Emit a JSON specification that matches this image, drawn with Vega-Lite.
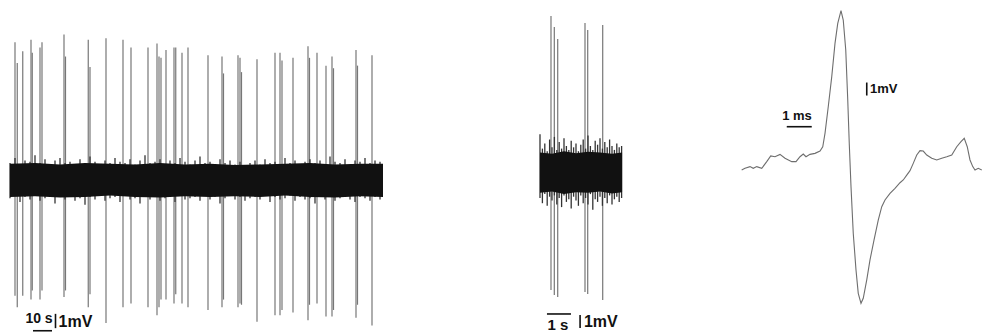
{
  "$schema": "https://vega.github.io/schema/vega-lite/v6.json",
  "padding": 0,
  "spacing": 0,
  "background": "white",
  "config": {"view": {"stroke": null}, "concat": {"spacing": 0}, "text": {"font": "Liberation Sans", "fontWeight": "bold", "fontSize": 15, "color": "#111"}},
  "datasets": {
    "p1core": [
      {"t":0,"hi":1.25,"lo":-1.3},{"t":10,"hi":1.3,"lo":-1.25},{"t":20,"hi":1.2,"lo":-1.35},{"t":30,"hi":1.3,"lo":-1.3},
      {"t":40,"hi":1.25,"lo":-1.2},{"t":50,"hi":1.2,"lo":-1.3},{"t":60,"hi":1.3,"lo":-1.35},{"t":70,"hi":1.2,"lo":-1.25},
      {"t":80,"hi":1.25,"lo":-1.3},{"t":90,"hi":1.15,"lo":-1.25},{"t":100,"hi":1.2,"lo":-1.3},{"t":110,"hi":1.25,"lo":-1.2},
      {"t":120,"hi":1.3,"lo":-1.3},{"t":130,"hi":1.2,"lo":-1.35},{"t":140,"hi":1.25,"lo":-1.25},{"t":149.2,"hi":1.25,"lo":-1.3}
    ],
    "p1noise": [
      {"t":0,"hi":1.3,"lo":-1.4},{"t":2,"hi":1.7,"lo":-1.2},{"t":4,"hi":1.2,"lo":-1.7},{"t":6,"hi":1.5,"lo":-1.3},{"t":8,"hi":1.4,"lo":-1.5},
      {"t":10,"hi":1.9,"lo":-1.2},{"t":12,"hi":1.3,"lo":-1.6},{"t":14,"hi":1.6,"lo":-1.4},{"t":16,"hi":1.2,"lo":-1.3},{"t":18,"hi":1.5,"lo":-1.8},
      {"t":20,"hi":1.7,"lo":-1.2},{"t":22,"hi":1.3,"lo":-1.5},{"t":24,"hi":1.4,"lo":-1.3},{"t":26,"hi":1.2,"lo":-1.6},{"t":28,"hi":1.6,"lo":-1.4},
      {"t":30,"hi":1.3,"lo":-1.9},{"t":32,"hi":1.8,"lo":-1.3},{"t":34,"hi":1.4,"lo":-1.5},{"t":36,"hi":1.2,"lo":-1.2},{"t":38,"hi":1.5,"lo":-1.6},
      {"t":40,"hi":1.3,"lo":-1.4},{"t":42,"hi":1.7,"lo":-1.3},{"t":44,"hi":1.4,"lo":-1.7},{"t":46,"hi":1.3,"lo":-1.2},{"t":48,"hi":1.6,"lo":-1.5},
      {"t":50,"hi":1.2,"lo":-1.4},{"t":52,"hi":1.5,"lo":-1.8},{"t":54,"hi":1.9,"lo":-1.3},{"t":56,"hi":1.3,"lo":-1.5},{"t":58,"hi":1.4,"lo":-1.2},
      {"t":60,"hi":1.6,"lo":-1.6},{"t":62,"hi":1.2,"lo":-1.4},{"t":64,"hi":1.5,"lo":-1.3},{"t":66,"hi":1.3,"lo":-1.7},{"t":68,"hi":1.7,"lo":-1.2},
      {"t":70,"hi":1.4,"lo":-1.5},{"t":72,"hi":1.2,"lo":-1.4},{"t":74,"hi":1.5,"lo":-1.3},{"t":76,"hi":1.8,"lo":-1.6},{"t":78,"hi":1.3,"lo":-1.2},
      {"t":80,"hi":1.4,"lo":-1.5},{"t":82,"hi":1.2,"lo":-1.3},{"t":84,"hi":1.6,"lo":-1.8},{"t":86,"hi":1.3,"lo":-1.4},{"t":88,"hi":1.5,"lo":-1.2},
      {"t":90,"hi":1.2,"lo":-1.5},{"t":92,"hi":1.4,"lo":-1.3},{"t":94,"hi":1.1,"lo":-1.6},{"t":96,"hi":1.3,"lo":-1.4},{"t":98,"hi":1.5,"lo":-1.3},
      {"t":100,"hi":1.2,"lo":-1.5},{"t":102,"hi":1.6,"lo":-1.2},{"t":104,"hi":1.3,"lo":-1.7},{"t":106,"hi":1.4,"lo":-1.3},{"t":108,"hi":1.2,"lo":-1.5},
      {"t":110,"hi":1.7,"lo":-1.4},{"t":112,"hi":1.3,"lo":-1.2},{"t":114,"hi":1.5,"lo":-1.6},{"t":116,"hi":1.2,"lo":-1.3},{"t":118,"hi":1.4,"lo":-1.5},
      {"t":120,"hi":1.6,"lo":-1.4},{"t":122,"hi":1.3,"lo":-1.8},{"t":124,"hi":1.5,"lo":-1.3},{"t":126,"hi":1.2,"lo":-1.5},{"t":128,"hi":1.8,"lo":-1.2},
      {"t":130,"hi":1.4,"lo":-1.6},{"t":132,"hi":1.3,"lo":-1.4},{"t":134,"hi":1.6,"lo":-1.3},{"t":136,"hi":1.2,"lo":-1.5},{"t":138,"hi":1.5,"lo":-1.7},
      {"t":140,"hi":1.4,"lo":-1.3},{"t":142,"hi":1.7,"lo":-1.4},{"t":144,"hi":1.3,"lo":-1.6},{"t":146,"hi":1.5,"lo":-1.3},{"t":148,"hi":1.4,"lo":-1.5}
    ],
    "p1spikes": [
      {"t":2.0,"top":10.6,"bottom":-8.9},{"t":2.9,"top":9.0,"bottom":-9.8},{"t":5.1,"top":9.9,"bottom":-8.9},{"t":8.4,"top":10.8,"bottom":-9.2},
      {"t":8.9,"top":9.8,"bottom":-8.5},{"t":12.0,"top":10.2,"bottom":-9.2},{"t":12.8,"top":10.6,"bottom":-8.5},{"t":21.6,"top":11.2,"bottom":-9.0},
      {"t":22.2,"top":9.5,"bottom":-8.5},{"t":31.3,"top":10.8,"bottom":-9.8},{"t":32.0,"top":8.7,"bottom":-8.8},{"t":38.4,"top":10.9,"bottom":-11.0},
      {"t":45.2,"top":10.8,"bottom":-9.8},{"t":48.4,"top":10.2,"bottom":-9.5},{"t":55.2,"top":10.2,"bottom":-9.8},{"t":58.8,"top":10.5,"bottom":-10.4},
      {"t":59.6,"top":9.5,"bottom":-9.8},{"t":60.4,"top":9.4,"bottom":-9.2},{"t":62.4,"top":10.0,"bottom":-9.2},{"t":65.6,"top":10.2,"bottom":-9.5},
      {"t":66.3,"top":10.2,"bottom":-8.8},{"t":68.8,"top":9.8,"bottom":-9.5},{"t":71.2,"top":10.2,"bottom":-9.8},{"t":79.2,"top":9.6,"bottom":-10.0},
      {"t":84.8,"top":9.5,"bottom":-9.8},{"t":85.4,"top":8.2,"bottom":-9.2},{"t":91.2,"top":9.6,"bottom":-9.8},{"t":92.0,"top":9.4,"bottom":-9.5},
      {"t":92.6,"top":8.3,"bottom":-9.6},{"t":98.8,"top":9.3,"bottom":-10.9},{"t":106.0,"top":9.8,"bottom":-10.4},{"t":108.0,"top":9.8,"bottom":-10.4},
      {"t":108.8,"top":9.2,"bottom":-10.0},{"t":113.2,"top":9.4,"bottom":-10.2},{"t":119.2,"top":10.3,"bottom":-10.8},{"t":119.8,"top":9.4,"bottom":-9.6},
      {"t":122.8,"top":9.8,"bottom":-9.5},{"t":126.4,"top":8.8,"bottom":-10.5},{"t":128.8,"top":9.5,"bottom":-10.5},{"t":129.4,"top":8.6,"bottom":-10.0},
      {"t":138.4,"top":10.0,"bottom":-10.6},{"t":139.0,"top":8.8,"bottom":-9.6},{"t":144.8,"top":9.6,"bottom":-11.2}
    ],
    "p1bars": [
      {"t":9.2,"t2":16.8,"v":-11.6,"v2":-11.6},
      {"t":18.2,"t2":18.2,"v":-10.3,"v2":-11.4}
    ],
    "p1labels": [
      {"t":11.6,"v":-10.7,"label":"10 s"},
      {"t":19.4,"v":-10.9,"label":"1mV"}
    ],
    "p2core": [
      {"t":0.0,"hi":1.5,"lo":-1.6},{"t":0.5,"hi":1.4,"lo":-1.5},{"t":1.0,"hi":1.6,"lo":-1.7},{"t":1.5,"hi":1.45,"lo":-1.55},
      {"t":2.0,"hi":1.55,"lo":-1.6},{"t":2.5,"hi":1.5,"lo":-1.5},{"t":3.0,"hi":1.4,"lo":-1.65},{"t":3.42,"hi":1.5,"lo":-1.55}
    ],
    "p2noise": [
      {"t":0.0,"hi":2.9,"lo":-2.0},{"t":0.1,"hi":1.8,"lo":-2.4},{"t":0.2,"hi":2.2,"lo":-1.7},{"t":0.3,"hi":1.6,"lo":-2.6},{"t":0.4,"hi":2.5,"lo":-1.9},
      {"t":0.5,"hi":1.9,"lo":-2.2},{"t":0.6,"hi":2.7,"lo":-1.8},{"t":0.7,"hi":1.7,"lo":-2.5},{"t":0.8,"hi":2.3,"lo":-2.0},{"t":0.9,"hi":1.8,"lo":-2.7},
      {"t":1.0,"hi":2.6,"lo":-1.8},{"t":1.1,"hi":2.0,"lo":-2.3},{"t":1.2,"hi":1.7,"lo":-2.1},{"t":1.3,"hi":2.4,"lo":-2.8},{"t":1.4,"hi":1.9,"lo":-1.9},
      {"t":1.5,"hi":2.2,"lo":-2.2},{"t":1.6,"hi":1.6,"lo":-2.6},{"t":1.7,"hi":2.1,"lo":-1.8},{"t":1.8,"hi":2.5,"lo":-2.4},{"t":1.9,"hi":1.8,"lo":-2.0},
      {"t":2.0,"hi":2.8,"lo":-2.5},{"t":2.1,"hi":2.0,"lo":-1.7},{"t":2.2,"hi":1.7,"lo":-2.9},{"t":2.3,"hi":2.4,"lo":-2.1},{"t":2.4,"hi":2.1,"lo":-2.3},
      {"t":2.5,"hi":2.6,"lo":-1.9},{"t":2.6,"hi":1.8,"lo":-2.6},{"t":2.7,"hi":2.3,"lo":-2.0},{"t":2.8,"hi":1.9,"lo":-2.4},{"t":2.9,"hi":2.5,"lo":-1.8},
      {"t":3.0,"hi":2.0,"lo":-2.5},{"t":3.1,"hi":1.7,"lo":-2.1},{"t":3.2,"hi":2.2,"lo":-1.9},{"t":3.3,"hi":1.9,"lo":-2.3},{"t":3.4,"hi":2.0,"lo":-2.0}
    ],
    "p2spikes": [
      {"t":0.458,"top":12.0,"bottom":-9.08},{"t":0.596,"top":11.15,"bottom":-9.46},{"t":0.738,"top":10.23,"bottom":-9.62},
      {"t":1.875,"top":11.46,"bottom":-9.23},{"t":1.988,"top":10.92,"bottom":-9.38},{"t":2.613,"top":11.31,"bottom":-9.85}
    ],
    "p2bars": [
      {"t":0.29,"t2":1.29,"v":-10.92,"v2":-10.92},
      {"t":1.67,"t2":1.67,"v":-11.0,"v2":-12.0}
    ],
    "p2labels": [
      {"t":0.75,"v":-11.75,"label":"1 s"},
      {"t":1.83,"v":-11.5,"label":"1mV"}
    ],
    "p3wave": [
      {"t":0.067,"v":0.77},{"t":0.2,"v":0.9},{"t":0.4,"v":1.03},{"t":0.53,"v":0.9},{"t":0.67,"v":1.03},{"t":0.87,"v":0.9},
      {"t":1.07,"v":1.41},{"t":1.23,"v":1.85},{"t":1.4,"v":1.79},{"t":1.6,"v":1.97},{"t":1.8,"v":1.67},{"t":2.07,"v":1.41},
      {"t":2.24,"v":1.41},{"t":2.4,"v":1.79},{"t":2.53,"v":2.0},{"t":2.64,"v":1.79},{"t":2.8,"v":1.97},{"t":3.0,"v":2.05},
      {"t":3.2,"v":2.23},{"t":3.31,"v":2.56},{"t":3.4,"v":3.59},{"t":3.53,"v":5.64},{"t":3.67,"v":7.95},{"t":3.8,"v":10.51},
      {"t":3.91,"v":12.05},{"t":4.04,"v":13.03},{"t":4.13,"v":12.31},{"t":4.23,"v":10.0},{"t":4.31,"v":6.15},{"t":4.37,"v":2.82},
      {"t":4.44,"v":-0.51},{"t":4.53,"v":-4.1},{"t":4.64,"v":-6.92},{"t":4.73,"v":-8.72},{"t":4.84,"v":-9.49},{"t":4.93,"v":-9.1},
      {"t":5.07,"v":-7.69},{"t":5.2,"v":-6.15},{"t":5.36,"v":-4.62},{"t":5.53,"v":-3.08},{"t":5.67,"v":-2.05},{"t":5.8,"v":-1.54},
      {"t":6.0,"v":-1.03},{"t":6.2,"v":-0.64},{"t":6.4,"v":-0.21},{"t":6.53,"v":0.0},{"t":6.67,"v":0.38},{"t":6.8,"v":0.72},
      {"t":6.93,"v":1.28},{"t":7.07,"v":1.92},{"t":7.2,"v":2.26},{"t":7.33,"v":2.23},{"t":7.47,"v":1.92},{"t":7.67,"v":1.67},
      {"t":7.87,"v":1.54},{"t":8.07,"v":1.67},{"t":8.27,"v":1.79},{"t":8.47,"v":1.92},{"t":8.67,"v":2.56},{"t":8.84,"v":2.95},
      {"t":8.97,"v":3.21},{"t":9.09,"v":2.56},{"t":9.2,"v":1.54},{"t":9.31,"v":1.03},{"t":9.4,"v":0.77},{"t":9.53,"v":0.9},
      {"t":9.67,"v":0.77}
    ],
    "p3bars": [
      {"t":1.87,"t2":2.87,"v":4.1,"v2":4.1},
      {"t":5.07,"t2":5.07,"v":6.5,"v2":7.5}
    ],
    "p3labels": [
      {"t":2.28,"v":4.95,"label":"1 ms"},
      {"t":5.2,"v":7.0,"label":"1mV"}
    ]
  },
  "hconcat": [
    {
      "width": 460, "height": 334,
      "layer": [
        {"data": {"name": "p1spikes"}, "mark": {"type": "rule", "color": "#777", "strokeWidth": 1.2},
         "encoding": {"x": {"field": "t", "type": "quantitative", "scale": {"domain": [-4, 180], "nice": false, "zero": false}, "axis": null},
                      "y": {"field": "top", "type": "quantitative", "scale": {"domain": [-11.85, 13.85], "nice": false, "zero": false}, "axis": null},
                      "y2": {"field": "bottom"}}},
        {"data": {"name": "p1noise"}, "mark": {"type": "rule", "color": "#333", "strokeWidth": 1.3},
         "encoding": {"x": {"field": "t", "type": "quantitative", "scale": {"domain": [-4, 180], "nice": false, "zero": false}, "axis": null},
                      "y": {"field": "hi", "type": "quantitative", "scale": {"domain": [-11.85, 13.85], "nice": false, "zero": false}, "axis": null},
                      "y2": {"field": "lo"}}},
        {"data": {"name": "p1core"}, "mark": {"type": "area", "color": "#111"},
         "encoding": {"x": {"field": "t", "type": "quantitative", "scale": {"domain": [-4, 180], "nice": false, "zero": false}, "axis": null},
                      "y": {"field": "hi", "type": "quantitative", "scale": {"domain": [-11.85, 13.85], "nice": false, "zero": false}, "axis": null},
                      "y2": {"field": "lo"}}},
        {"data": {"name": "p1bars"}, "mark": {"type": "rule", "color": "#111", "strokeWidth": 1.6},
         "encoding": {"x": {"field": "t", "type": "quantitative", "scale": {"domain": [-4, 180], "nice": false, "zero": false}, "axis": null},
                      "x2": {"field": "t2"},
                      "y": {"field": "v", "type": "quantitative", "scale": {"domain": [-11.85, 13.85], "nice": false, "zero": false}, "axis": null},
                      "y2": {"field": "v2"}}},
        {"data": {"name": "p1labels"}, "transform": [{"filter": "datum.label !== '1mV'"}], "mark": {"type": "text", "align": "center", "baseline": "middle", "fontSize": 14},
         "encoding": {"x": {"field": "t", "type": "quantitative", "scale": {"domain": [-4, 180], "nice": false, "zero": false}, "axis": null},
                      "y": {"field": "v", "type": "quantitative", "scale": {"domain": [-11.85, 13.85], "nice": false, "zero": false}, "axis": null},
                      "text": {"field": "label"}}},
        {"data": {"name": "p1labels"}, "transform": [{"filter": "datum.label === '1mV'"}], "mark": {"type": "text", "align": "left", "baseline": "middle", "fontSize": 16},
         "encoding": {"x": {"field": "t", "type": "quantitative", "scale": {"domain": [-4, 180], "nice": false, "zero": false}, "axis": null},
                      "y": {"field": "v", "type": "quantitative", "scale": {"domain": [-11.85, 13.85], "nice": false, "zero": false}, "axis": null},
                      "text": {"field": "label"}}}
      ]
    },
    {
      "width": 260, "height": 334,
      "layer": [
        {"data": {"name": "p2spikes"}, "mark": {"type": "rule", "color": "#777", "strokeWidth": 1.2},
         "encoding": {"x": {"field": "t", "type": "quantitative", "scale": {"domain": [-3.3333, 7.5], "nice": false, "zero": false}, "axis": null},
                      "y": {"field": "top", "type": "quantitative", "scale": {"domain": [-12.46, 13.23], "nice": false, "zero": false}, "axis": null},
                      "y2": {"field": "bottom"}}},
        {"data": {"name": "p2noise"}, "mark": {"type": "rule", "color": "#333", "strokeWidth": 1.3},
         "encoding": {"x": {"field": "t", "type": "quantitative", "scale": {"domain": [-3.3333, 7.5], "nice": false, "zero": false}, "axis": null},
                      "y": {"field": "hi", "type": "quantitative", "scale": {"domain": [-12.46, 13.23], "nice": false, "zero": false}, "axis": null},
                      "y2": {"field": "lo"}}},
        {"data": {"name": "p2core"}, "mark": {"type": "area", "color": "#111"},
         "encoding": {"x": {"field": "t", "type": "quantitative", "scale": {"domain": [-3.3333, 7.5], "nice": false, "zero": false}, "axis": null},
                      "y": {"field": "hi", "type": "quantitative", "scale": {"domain": [-12.46, 13.23], "nice": false, "zero": false}, "axis": null},
                      "y2": {"field": "lo"}}},
        {"data": {"name": "p2bars"}, "mark": {"type": "rule", "color": "#111", "strokeWidth": 1.6},
         "encoding": {"x": {"field": "t", "type": "quantitative", "scale": {"domain": [-3.3333, 7.5], "nice": false, "zero": false}, "axis": null},
                      "x2": {"field": "t2"},
                      "y": {"field": "v", "type": "quantitative", "scale": {"domain": [-12.46, 13.23], "nice": false, "zero": false}, "axis": null},
                      "y2": {"field": "v2"}}},
        {"data": {"name": "p2labels"}, "transform": [{"filter": "datum.label !== '1mV'"}], "mark": {"type": "text", "align": "center", "baseline": "middle"},
         "encoding": {"x": {"field": "t", "type": "quantitative", "scale": {"domain": [-3.3333, 7.5], "nice": false, "zero": false}, "axis": null},
                      "y": {"field": "v", "type": "quantitative", "scale": {"domain": [-12.46, 13.23], "nice": false, "zero": false}, "axis": null},
                      "text": {"field": "label"}}},
        {"data": {"name": "p2labels"}, "transform": [{"filter": "datum.label === '1mV'"}], "mark": {"type": "text", "align": "left", "baseline": "middle", "fontSize": 16},
         "encoding": {"x": {"field": "t", "type": "quantitative", "scale": {"domain": [-3.3333, 7.5], "nice": false, "zero": false}, "axis": null},
                      "y": {"field": "v", "type": "quantitative", "scale": {"domain": [-12.46, 13.23], "nice": false, "zero": false}, "axis": null},
                      "text": {"field": "label"}}}
      ]
    },
    {
      "width": 262, "height": 334,
      "layer": [
        {"data": {"name": "p3wave"}, "mark": {"type": "line", "color": "#6e6e6e", "strokeWidth": 1.1},
         "encoding": {"x": {"field": "t", "type": "quantitative", "scale": {"domain": [-0.8, 9.68], "nice": false, "zero": false}, "axis": null},
                      "y": {"field": "v", "type": "quantitative", "scale": {"domain": [-11.85, 13.85], "nice": false, "zero": false}, "axis": null}}},
        {"data": {"name": "p3bars"}, "mark": {"type": "rule", "color": "#111", "strokeWidth": 1.6},
         "encoding": {"x": {"field": "t", "type": "quantitative", "scale": {"domain": [-0.8, 9.68], "nice": false, "zero": false}, "axis": null},
                      "x2": {"field": "t2"},
                      "y": {"field": "v", "type": "quantitative", "scale": {"domain": [-11.85, 13.85], "nice": false, "zero": false}, "axis": null},
                      "y2": {"field": "v2"}}},
        {"data": {"name": "p3labels"}, "transform": [{"filter": "datum.label !== '1mV'"}], "mark": {"type": "text", "align": "center", "baseline": "middle", "fontSize": 13},
         "encoding": {"x": {"field": "t", "type": "quantitative", "scale": {"domain": [-0.8, 9.68], "nice": false, "zero": false}, "axis": null},
                      "y": {"field": "v", "type": "quantitative", "scale": {"domain": [-11.85, 13.85], "nice": false, "zero": false}, "axis": null},
                      "text": {"field": "label"}}},
        {"data": {"name": "p3labels"}, "transform": [{"filter": "datum.label === '1mV'"}], "mark": {"type": "text", "align": "left", "baseline": "middle", "fontSize": 13},
         "encoding": {"x": {"field": "t", "type": "quantitative", "scale": {"domain": [-0.8, 9.68], "nice": false, "zero": false}, "axis": null},
                      "y": {"field": "v", "type": "quantitative", "scale": {"domain": [-11.85, 13.85], "nice": false, "zero": false}, "axis": null},
                      "text": {"field": "label"}}}
      ]
    }
  ]
}
